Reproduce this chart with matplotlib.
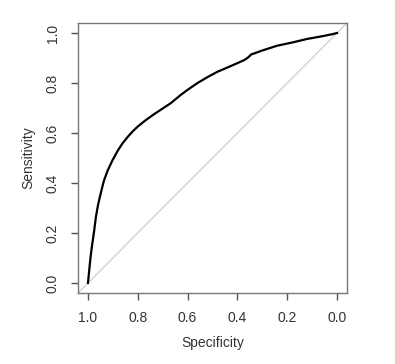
import numpy as np
import matplotlib
matplotlib.use("Agg")
import matplotlib.pyplot as plt

plt.rcParams['font.family'] = ['Liberation Sans', 'DejaVu Sans']

# ROC curve
specificity = [1.000, 0.995, 0.990, 0.985, 0.980, 0.975, 0.968, 0.960, 0.952, 0.943, 0.935,
               0.920, 0.901, 0.880, 0.861, 0.840, 0.820, 0.801, 0.770, 0.735,
               0.700, 0.668, 0.628, 0.601, 0.560, 0.521, 0.480, 0.440, 0.401,
               0.370, 0.355, 0.345, 0.300, 0.241, 0.180, 0.121, 0.060, 0.020, 0.000]
sensitivity = [0.000, 0.050, 0.100, 0.140, 0.175, 0.210, 0.265, 0.310, 0.345, 0.382, 0.412,
               0.452, 0.492, 0.530, 0.559, 0.585, 0.607, 0.625, 0.650, 0.675,
               0.698, 0.719, 0.752, 0.772, 0.800, 0.823, 0.845, 0.862, 0.879,
               0.893, 0.904, 0.914, 0.930, 0.949, 0.962, 0.976, 0.987, 0.995, 1.000]
ticks = [1.0, 0.8, 0.6, 0.4, 0.2, 0.0]

fig = plt.figure(figsize=(3.95, 3.64), dpi=100)
ax = fig.add_axes([78/395, 71/364, 269/395, 270/364])

ax.plot([1.04, -0.04], [-0.04, 1.04], color='#cccccc', lw=0.9, zorder=1)
ax.plot(specificity, sensitivity, color='black', lw=1.6, zorder=2)

ax.set_xlim(1.04, -0.04)
ax.set_ylim(-0.04, 1.04)
ax.set_xticks(ticks)
ax.set_yticks(ticks)
ax.set_xticklabels(['%.1f' % t for t in ticks])
ax.set_yticklabels(['%.1f' % t for t in ticks], rotation=90, va='center')
ax.tick_params(length=5, width=1, color='#555555', labelsize=10, labelcolor='#333333', pad=8)
for s in ax.spines.values():
    s.set_color('#777777')
    s.set_linewidth(1)

ax.set_xlabel('Specificity', fontsize=10, color='#333333', labelpad=8)
ax.set_ylabel('Sensitivity', fontsize=10, color='#333333', labelpad=8)

fig.savefig('out.png', dpi=100, facecolor='white')
